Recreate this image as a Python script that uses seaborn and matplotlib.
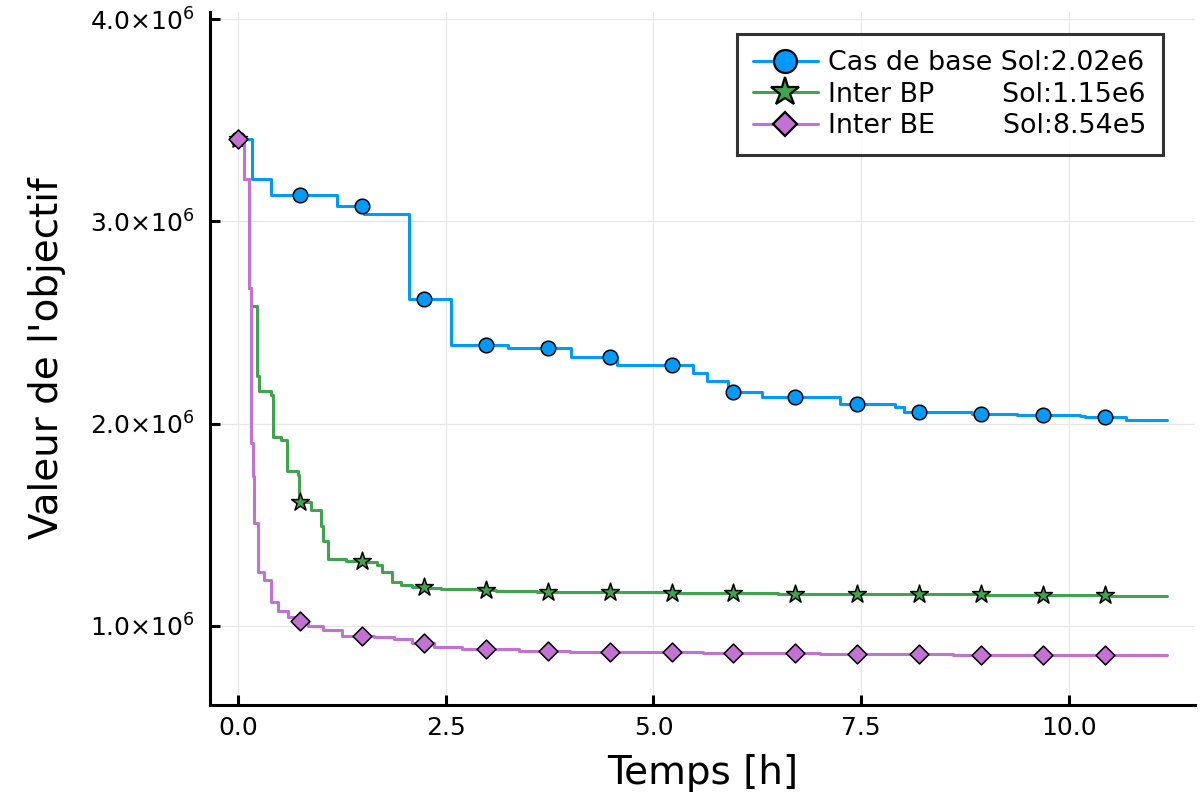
import numpy as np
import pandas as pd
import matplotlib
matplotlib.use("Agg")
import matplotlib.pyplot as plt
import seaborn as sns
from matplotlib.lines import Line2D

# ---- data (step change points, time in h, objective in units of 1e6) ----
base_t = [0.0, 0.17, 0.40, 1.19, 1.52, 2.06, 2.56, 3.25, 4.01, 4.56, 5.48, 5.64,
          5.90, 6.31, 7.24, 7.91, 8.02, 8.83, 9.37, 10.13, 10.19, 10.69, 11.18]
base_v = [3.41, 3.208, 3.129, 3.076, 3.038, 2.617, 2.388, 2.375, 2.330, 2.289, 2.251, 2.213,
          2.157, 2.130, 2.099, 2.083, 2.058, 2.048, 2.045, 2.040, 2.032, 2.020, 2.020]

bp_t = [0.0, 0.076, 0.14, 0.16, 0.23, 0.26, 0.40, 0.42, 0.52, 0.59, 0.72, 0.73, 0.88,
        1.00, 1.02, 1.09, 1.30, 1.55, 1.68, 1.74, 1.86, 1.96, 2.10, 2.30, 2.45, 2.90,
        3.10, 3.60, 4.50, 5.20, 6.00, 6.50, 7.40, 8.30, 9.00, 9.80, 10.50, 11.18]
bp_v = [3.41, 3.208, 2.673, 2.584, 2.234, 2.160, 2.144, 1.932, 1.921, 1.764, 1.748, 1.615, 1.574,
        1.492, 1.421, 1.330, 1.322, 1.315, 1.302, 1.269, 1.219, 1.203, 1.195, 1.187, 1.182, 1.178,
        1.174, 1.170, 1.167, 1.165, 1.162, 1.160, 1.158, 1.156, 1.154, 1.152, 1.150, 1.150]

be_t = [0.0, 0.076, 0.14, 0.155, 0.18, 0.20, 0.24, 0.31, 0.40, 0.48, 0.60, 0.70, 0.84,
        1.03, 1.25, 1.64, 1.88, 2.10, 2.36, 2.70, 3.38, 4.00, 4.80, 5.60, 6.30, 7.00,
        7.80, 8.60, 9.40, 10.20, 11.18]
be_v = [3.41, 3.208, 2.673, 1.904, 1.739, 1.510, 1.269, 1.228, 1.120, 1.076, 1.046, 1.025, 1.000,
        0.980, 0.952, 0.944, 0.934, 0.918, 0.898, 0.885, 0.876, 0.872, 0.869, 0.867, 0.865, 0.862,
        0.860, 0.858, 0.857, 0.855, 0.854]

series_t = [base_t, bp_t, be_t]
series_v = [base_v, bp_v, be_v]
legend_labels = ["Cas de base Sol:2.02e6",
                 "Inter BP        Sol:1.15e6",
                 "Inter BE        Sol:8.54e5"]
colors = ["#009AFA", "#3EA44E", "#C371D2"]
markers = ["o", "*", "D"]
marker_sizes = [10.5, 13.5, 9.6]
legend_marker_sizes = [16.5, 21.0, 12.5]
n_markers = 15

x_ticks = [0.0, 2.5, 5.0, 7.5, 10.0]
x_tick_labels = ["0.0", "2.5", "5.0", "7.5", "10.0"]
y_ticks = [1e6, 2e6, 3e6, 4e6]
y_tick_labels = ["1.0×10$^{6}$", "2.0×10$^{6}$", "3.0×10$^{6}$", "4.0×10$^{6}$"]
x_label = "Temps [h]"
y_label = "Valeur de l'objectif"

# ---- style ----
sns.set_theme(style="ticks")
plt.rcParams["font.family"] = ["DejaVu Sans"]
plt.rcParams["mathtext.fontset"] = "dejavusans"
plt.rcParams["text.color"] = "black"
plt.rcParams["axes.labelcolor"] = "black"

fig = plt.figure(figsize=(12.02, 7.98), dpi=100)
ax = fig.add_axes([210 / 1202, 93 / 798, 985 / 1202, 693 / 798])

handles = []
for i, (t, v) in enumerate(zip(series_t, series_v)):
    t = np.asarray(t)
    v = np.asarray(v) * 1e6
    df = pd.DataFrame({"t": t, "v": v})
    sns.lineplot(data=df, x="t", y="v", ax=ax, color=colors[i], lw=2.2,
                 drawstyle="steps-post", estimator=None, sort=False, legend=False,
                 zorder=3 + 2 * i)
    tm = np.arange(n_markers) * t[-1] / n_markers
    idx = np.searchsorted(t, tm, side="right") - 1
    mdf = pd.DataFrame({"t": tm, "v": v[idx]})
    sns.scatterplot(data=mdf, x="t", y="v", ax=ax, marker=markers[i],
                    s=marker_sizes[i] ** 2, color=colors[i], edgecolor="black",
                    linewidth=1.1, legend=False, zorder=4 + 2 * i)
    handles.append(Line2D([0], [0], color=colors[i], lw=2.2, marker=markers[i],
                          ms=legend_marker_sizes[i], mfc=colors[i], mec="black", mew=1.6))

ax.set_xlim(-0.335, 11.515)
ax.set_ylim(0.609e6, 4.036e6)
ax.set_xticks(x_ticks, x_tick_labels)
ax.set_yticks(y_ticks, y_tick_labels)
ax.set_xlabel(x_label, fontsize=28, labelpad=10, color="black")
ax.set_ylabel(y_label, fontsize=28, labelpad=17, color="black")
ax.tick_params(axis="both", direction="in", length=7, width=2.2, labelsize=18,
               colors="black", labelcolor="black")
ax.tick_params(axis="x", pad=8)
ax.tick_params(axis="y", pad=11)
ax.grid(True, color="#E6E6E6", lw=0.9)
ax.set_axisbelow(True)
for s in ["top", "right"]:
    ax.spines[s].set_visible(False)
for s in ["left", "bottom"]:
    ax.spines[s].set_linewidth(2.2)
    ax.spines[s].set_color("black")

leg = ax.legend(handles, legend_labels, loc="upper right", bbox_to_anchor=(0.9675, 0.968),
                borderaxespad=0, fontsize=19.4, frameon=True, fancybox=False,
                handlelength=2.4, handletextpad=0.4, labelspacing=0.2, borderpad=0.6)
leg.get_frame().set_edgecolor("black")
leg.get_frame().set_linewidth(2.2)
for txt in leg.get_texts():
    txt.set_color("black")

fig.savefig("out.png", dpi=100)
